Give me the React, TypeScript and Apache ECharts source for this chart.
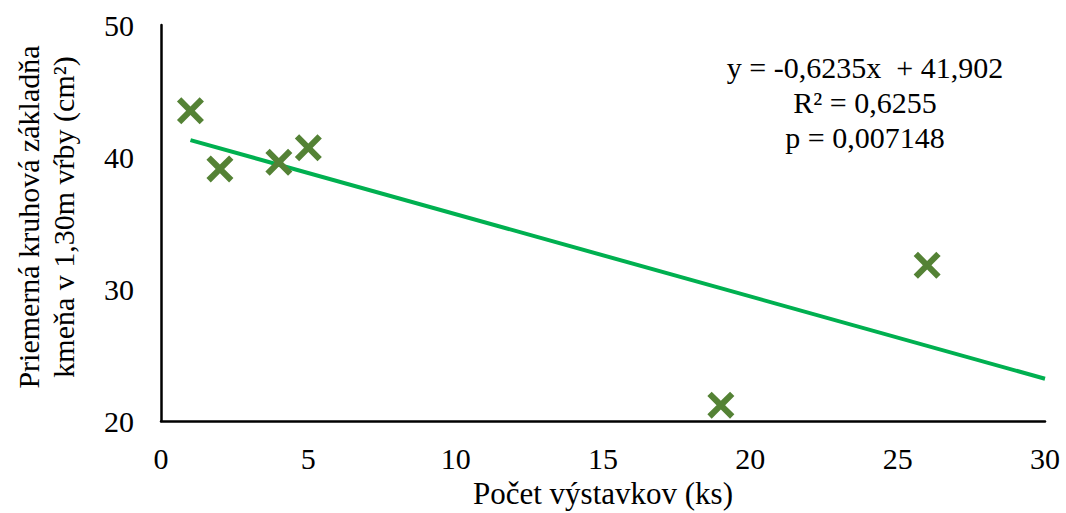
import React, { useEffect, useRef } from "react";
import * as echarts from "echarts";

const xValues = [1, 2, 4, 5, 19, 26];
const yValues = [43.5, 39.1, 39.6, 40.7, 21.2, 31.8];
const trendX = [1, 30];
const trendY = [41.28, 23.2];
const xTicks = [0, 5, 10, 15, 20, 25, 30];
const yTicks = [20, 30, 40, 50];
const xTitle = "Počet výstavkov (ks)";
const yTitleLines = ["Priemerná kruhová základňa", "kmeňa v 1,30m vŕby (cm²)"];
const annotationLines = ["y = -0,6235x  + 41,902", "R² = 0,6255", "p = 0,007148"];

const FONT = "'Liberation Serif', 'Times New Roman', serif";
const FS = 30;
const CROSS =
  "path://M3.2,0 L10,6.8 L16.8,0 L20,3.2 L13.2,10 L20,16.8 L16.8,20 L10,13.2 L3.2,20 L0,16.8 L6.8,10 L0,3.2 Z";

export default function App() {
  const ref = useRef<HTMLDivElement>(null);
  useEffect(() => {
    if (!ref.current) return;
    const chart = echarts.init(ref.current, null, { renderer: "svg" });
    chart.setOption({
      animation: false,
      backgroundColor: "#ffffff",
      grid: { left: 161, top: 25, right: 21, bottom: 92, containLabel: false, outerBoundsMode: "none" },
      xAxis: {
        type: "value",
        min: xTicks[0],
        max: xTicks[xTicks.length - 1],
        interval: 5,
        axisLine: { show: true, lineStyle: { color: "#000", width: 2.5 } },
        axisTick: { show: false },
        splitLine: { show: false },
        axisLabel: { color: "#000", fontFamily: FONT, fontSize: FS, margin: 22 },
        name: xTitle,
        nameLocation: "middle",
        nameGap: 57,
        nameTextStyle: { color: "#000", fontFamily: FONT, fontSize: 31, lineHeight: 31 },
      },
      yAxis: {
        type: "value",
        min: yTicks[0],
        max: yTicks[yTicks.length - 1],
        interval: 10,
        axisLine: { show: true, lineStyle: { color: "#000", width: 2.5 } },
        axisTick: { show: false },
        splitLine: { show: false },
        axisLabel: { color: "#000", fontFamily: FONT, fontSize: FS, margin: 27 },
      },
      graphic: [
        {
          type: "text",
          x: 28,
          y: 217,
          rotation: Math.PI / 2,
          style: {
            text: yTitleLines[0],
            fontFamily: FONT,
            fontSize: FS,
            fill: "#000",
            align: "center",
            verticalAlign: "middle",
          },
        },
        {
          type: "text",
          x: 63,
          y: 217,
          rotation: Math.PI / 2,
          style: {
            text: yTitleLines[1],
            fontFamily: FONT,
            fontSize: FS,
            fill: "#000",
            align: "center",
            verticalAlign: "middle",
          },
        },
        ...annotationLines.map((t, i) => ({
          type: "text",
          x: 865,
          y: 67 + i * 35,
          style: {
            text: t,
            fontFamily: FONT,
            fontSize: FS,
            fill: "#000",
            align: "center",
            verticalAlign: "middle",
          },
        })),
      ],
      series: [
        {
          type: "line",
          data: trendX.map((x, i) => [x, trendY[i]]),
          symbol: "none",
          lineStyle: { color: "#00B050", width: 4 },
          z: 2,
        },
        {
          type: "scatter",
          data: xValues.map((x, i) => [x, yValues[i]]),
          symbol: CROSS,
          symbolSize: 27,
          itemStyle: { color: "#548235", opacity: 1 },
          z: 3,
        },
      ],
    });
    return () => chart.dispose();
  }, []);
  return (
    <div
      ref={ref}
      style={{ position: "fixed", left: 0, top: 0, width: 1066, height: 513, background: "#fff" }}
    />
  );
}
